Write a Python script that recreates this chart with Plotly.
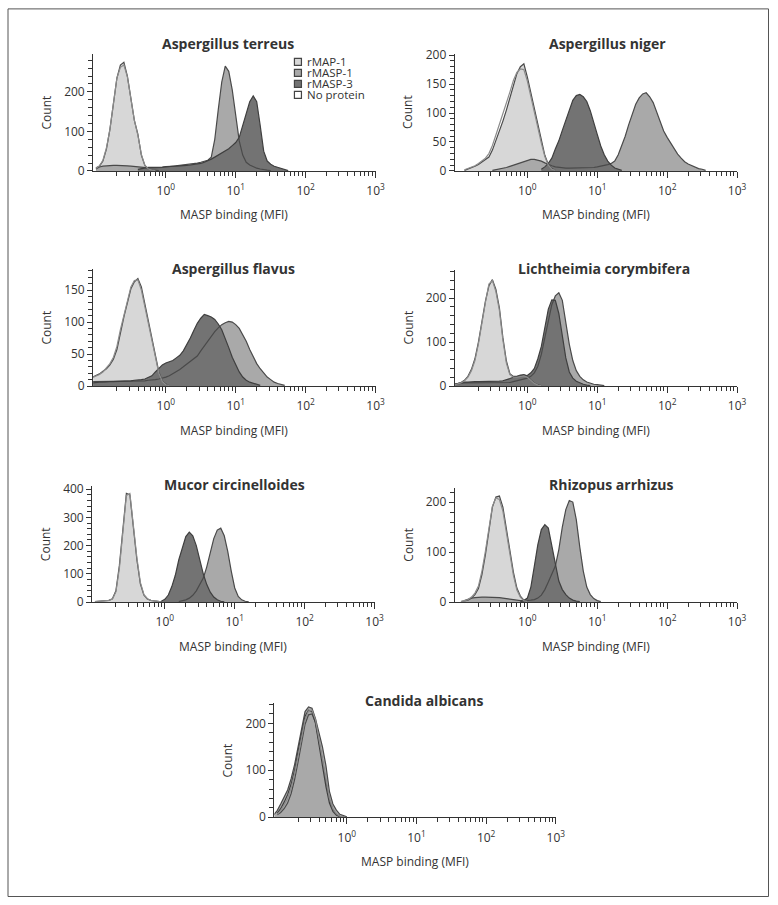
import numpy as np
import plotly.graph_objects as go

W, H = 778, 905
# the photographed page comes out slightly scaled; positions below are in reference pixels
SX, SY, OY = 0.987, 0.982, 7.1
STEP = 0.05  # histogram bin width, in decades of MFI

SERIES = ['rMAP-1', 'rMASP-1', 'rMASP-3', 'No protein']
FILL = ['#d7d7d7', '#a9a9a9', '#737373', 'white']
EDGE = ['#4a4a4a', '#4a4a4a', '#3f3f3f', '#8c8c8c']

# counts per bin; each series starts at log10(MFI) given in *_start (order: SERIES)
terreus_start = [-1.0, -1.0, -0.4, -1.0]
terreus_rmap1 = [8, 12, 25, 55, 105, 170, 235, 268, 275, 240, 180, 128, 93, 40, 14, 5, 3, 2, 1]
terreus_rmasp1 = [5, 10, 12, 13, 14, 14, 14, 14, 13, 13, 12, 11, 10, 9, 8, 8, 8, 8, 9, 9,
                  10, 11, 12, 13, 14, 15, 16, 17, 18, 20, 22, 24, 27, 35, 80, 155, 225, 265, 252, 205,
                  135, 76, 40, 22, 15, 10, 7, 5, 3, 2, 1]
terreus_rmasp3 = [4, 6, 8, 9, 9, 9, 10, 10, 11, 11, 12, 12, 13, 13, 14, 15, 16, 17, 19, 22,
                  25, 30, 35, 40, 45, 50, 56, 64, 72, 85, 115, 145, 175, 190, 175, 115, 50, 25, 17, 12,
                  9, 6, 3, 1]
terreus_none = [7, 13, 27, 58, 105, 170, 235, 262, 268, 238, 178, 128, 90, 42, 14, 5, 2, 1]

niger_start = [-0.9, -0.5, 0.2, -0.9]
niger_rmap1 = [1, 3, 5, 8, 11, 15, 19, 24, 36, 52, 69, 86, 105, 125, 148, 168, 180, 185, 162, 135,
               109, 80, 52, 27, 11, 4, 1]
niger_rmasp1 = [1, 2, 3, 4, 6, 8, 10, 12, 14, 16, 18, 20, 20, 19, 17, 14, 11, 9, 7, 6,
                5, 5, 5, 5, 5, 5, 5, 5, 6, 6, 7, 8, 9, 11, 13, 17, 28, 43, 60, 80,
                98, 115, 126, 133, 135, 128, 118, 102, 85, 69, 58, 48, 38, 29, 22, 16, 12, 9, 6, 4,
                3, 1]
niger_rmasp3 = [3, 7, 13, 22, 38, 52, 70, 88, 108, 122, 130, 132, 128, 120, 104, 82, 63, 43, 28, 17,
                10, 5, 3, 1]
niger_none = [2, 4, 6, 9, 13, 17, 22, 30, 44, 62, 80, 98, 117, 136, 156, 170, 176, 175, 155, 128,
              100, 74, 48, 25, 10, 3, 1]

flavus_start = [-1.05, -1.05, -1.05, -1.05]
flavus_rmap1 = [14, 16, 19, 23, 27, 33, 42, 57, 85, 108, 130, 152, 163, 168, 155, 128, 102, 76, 45, 22,
                8, 3, 1]
flavus_rmasp1 = [7, 7, 7, 7, 7, 7, 7, 7, 7, 7, 7, 7, 7, 7, 8, 8, 9, 9, 10, 11,
                 12, 14, 16, 19, 22, 26, 30, 34, 38, 42, 47, 55, 63, 70, 77, 85, 91, 96, 99, 101,
                 100, 96, 90, 80, 70, 57, 45, 35, 27, 20, 14, 10, 6, 4, 2, 1]
flavus_rmasp3 = [5, 6, 6, 6, 7, 7, 7, 7, 8, 8, 8, 8, 9, 9, 10, 11, 13, 16, 22, 28,
                 33, 36, 38, 40, 44, 48, 55, 64, 75, 87, 98, 106, 112, 110, 108, 104, 97, 88, 75, 60,
                 45, 33, 22, 14, 9, 6, 4, 2, 1]
flavus_none = [13, 15, 18, 22, 28, 35, 45, 62, 88, 112, 135, 155, 165, 166, 150, 124, 98, 72, 42, 20,
               7, 2, 1]

licht_start = [-1.05, -1.05, -1.05, -1.05]
licht_rmap1 = [3, 5, 8, 13, 22, 38, 62, 100, 150, 193, 228, 242, 220, 178, 110, 57, 28, 22, 22, 25,
               26, 22, 14, 7, 3, 1]
licht_rmasp1 = [3, 5, 6, 7, 7, 7, 7, 7, 7, 7, 7, 7, 7, 7, 7, 7, 8, 10, 12, 14,
                16, 18, 22, 30, 45, 72, 110, 150, 185, 205, 212, 195, 140, 95, 58, 35, 22, 14, 9, 6,
                4, 3, 2, 1]
licht_rmasp3 = [4, 6, 8, 9, 9, 10, 10, 10, 10, 10, 10, 10, 10, 11, 12, 14, 17, 20, 22, 24,
                25, 24, 30, 40, 62, 90, 135, 175, 196, 195, 165, 110, 64, 32, 18, 11, 7, 4, 2, 1]
licht_none = [2, 4, 7, 12, 20, 35, 58, 96, 146, 190, 232, 240, 215, 172, 105, 52, 26, 20, 20, 22,
              23, 20, 12, 6, 2, 1]

mucor_start = [-1.0, 0.2, -0.1, -1.0]
mucor_rmap1 = [2, 3, 4, 5, 6, 12, 40, 130, 265, 385, 380, 265, 150, 65, 25, 11, 6, 4, 2, 1]
mucor_rmasp1 = [2, 4, 8, 14, 24, 40, 60, 85, 125, 178, 225, 255, 262, 235, 180, 110, 50, 20, 8, 3, 1]
mucor_rmasp3 = [1, 3, 10, 25, 55, 95, 150, 195, 232, 248, 235, 200, 145, 100, 62, 35, 18, 8, 3, 1]
mucor_none = [2, 3, 4, 5, 6, 11, 36, 120, 255, 378, 385, 272, 158, 70, 27, 12, 6, 4, 2, 1]

rhizo_start = [-0.95, -0.9, -0.1, -0.95]
rhizo_rmap1 = [1, 2, 4, 8, 15, 27, 55, 95, 145, 190, 210, 212, 190, 145, 100, 60, 28, 12, 4, 1]
rhizo_rmasp1 = [3, 6, 8, 9, 10, 10, 10, 10, 10, 9, 9, 8, 7, 5, 4, 3, 3, 3, 3, 4,
                5, 8, 14, 25, 40, 55, 72, 105, 150, 185, 203, 200, 165, 110, 62, 30, 15, 7, 3, 1]
rhizo_rmasp3 = [1, 3, 8, 30, 72, 115, 145, 155, 148, 115, 75, 42, 25, 15, 8, 4, 2, 1]
rhizo_none = [1, 3, 5, 10, 18, 32, 62, 102, 150, 192, 208, 205, 182, 138, 92, 54, 24, 10, 3, 1]

candida_start = [-1.0, -1.05, -1.0, -1.0]
candida_rmap1 = [5, 10, 18, 30, 50, 80, 118, 160, 198, 218, 220, 202, 165, 120, 75, 38, 16, 6, 2, 1]
candida_rmasp1 = [5, 14, 28, 42, 58, 82, 112, 150, 190, 225, 235, 232, 210, 178, 150, 110, 55, 28, 15, 6,
                  3, 1]
candida_rmasp3 = [8, 18, 32, 48, 70, 100, 140, 182, 215, 228, 225, 200, 150, 110, 65, 30, 12, 4, 1]
candida_none = [6, 14, 26, 40, 62, 92, 130, 172, 208, 226, 228, 208, 168, 125, 80, 40, 18, 7, 2, 1]

MAJOR = [1, 10, 100, 1000]
MAJOR_TEXT = ['10<sup>0</sup>', '10<sup>1</sup>', '10<sup>2</sup>', '10<sup>3</sup>']
MINOR = [m * 10.0 ** e for e in range(-1, 3) for m in range(2, 10)]

panels = [
    dict(title='Aspergillus terreus', start=terreus_start,
         counts=[terreus_rmap1, terreus_rmasp1, terreus_rmasp3, terreus_none],
         ymax=296, dtick=100, minor=20, box=(93, 375, 53, 170), tpos=(228, 43)),
    dict(title='Aspergillus niger', start=niger_start,
         counts=[niger_rmap1, niger_rmasp1, niger_rmasp3, niger_none],
         ymax=202, dtick=50, minor=10, box=(454, 736, 53, 170), tpos=(607, 43)),
    dict(title='Aspergillus flavus', start=flavus_start,
         counts=[flavus_rmap1, flavus_rmasp1, flavus_rmasp3, flavus_none],
         ymax=183, dtick=50, minor=10, box=(93, 375, 268, 385), tpos=(233, 268)),
    dict(title='Lichtheimia corymbifera', start=licht_start,
         counts=[licht_rmap1, licht_rmasp1, licht_rmasp3, licht_none],
         ymax=264, dtick=100, minor=20, box=(454, 736, 269, 385), tpos=(603, 268)),
    dict(title='Mucor circinelloides', start=mucor_start,
         counts=[mucor_rmap1, mucor_rmasp1, mucor_rmasp3, mucor_none],
         ymax=411, dtick=100, minor=20, box=(92, 374, 485, 601), tpos=(234, 483)),
    dict(title='Rhizopus arrhizus', start=rhizo_start,
         counts=[rhizo_rmap1, rhizo_rmasp1, rhizo_rmasp3, rhizo_none],
         ymax=228, dtick=100, minor=20, box=(454, 736, 487, 601), tpos=(611, 483)),
    dict(title='Candida albicans', start=candida_start,
         counts=[candida_rmap1, candida_rmasp1, candida_rmasp3, candida_none],
         ymax=243, dtick=100, minor=20, box=(274, 555, 702, 816), tpos=(423, 699), order=[0, 2, 1]),
]

FONT = 'Open Sans, DejaVu Sans, sans-serif'
TXT = '#333333'


def px(x):
    return min(x / SX, W - 0.5) / W


def py(y):
    return 1 - min((y - OY) / SY, H - 0.5) / H


def label(text, x, y, size=12, **kw):
    d = dict(text=text, x=px(x), y=py(y), xref='paper', yref='paper', showarrow=False,
             xanchor='center', yanchor='middle', font=dict(size=size, color=TXT, family=FONT))
    d.update(kw)
    return d


fig = go.Figure()
annotations = []
shapes = []
layout = {}

for n, p in enumerate(panels, start=1):
    xa, ya = ('x%d' % n if n > 1 else 'x'), ('y%d' % n if n > 1 else 'y')
    bins = []
    for s, c in zip(p['start'], p['counts']):
        bins.append(10 ** (s + STEP * np.arange(len(c))))
    # filled histograms
    for k in p.get('order', [0, 1, 2]):
        fig.add_trace(go.Scatter(x=bins[k], y=p['counts'][k], xaxis=xa, yaxis=ya,
                                 mode='lines', fill='tozeroy', fillcolor=FILL[k],
                                 line=dict(width=0, color=FILL[k]),
                                 hoverinfo='skip', showlegend=False))
    # outlines on top
    for k in [0, 1, 2, 3]:
        fig.add_trace(go.Scatter(x=bins[k], y=p['counts'][k], xaxis=xa, yaxis=ya,
                                 mode='lines', line=dict(width=1.2, color=EDGE[k]),
                                 name=SERIES[k], hoverinfo='skip', showlegend=False))

    x0, x1, y0, y1 = p['box']
    key = '' if n == 1 else str(n)
    layout['xaxis' + key] = dict(
        type='log', range=[-1.04, 3], domain=[px(x0), px(x1)], anchor=ya,
        showline=True, linecolor=TXT, linewidth=1, showgrid=False, zeroline=False,
        ticks='outside', ticklen=6, tickcolor=TXT, tickvals=MAJOR, ticktext=MAJOR_TEXT,
        ticklabelstandoff=3, tickfont=dict(size=12, color=TXT),
        minor=dict(tickvals=MINOR, ticks='outside', ticklen=4, tickcolor=TXT, showgrid=False),
        fixedrange=True)
    layout['yaxis' + key] = dict(
        range=[0, p['ymax']], domain=[py(y1), py(y0)], anchor=xa,
        showline=True, linecolor=TXT, linewidth=1, showgrid=False, zeroline=False,
        ticks='outside', ticklen=5, tickcolor=TXT, dtick=p['dtick'], tick0=0,
        tickfont=dict(size=12, color=TXT),
        minor=dict(dtick=p['minor'], ticks='outside', ticklen=4, tickcolor=TXT, showgrid=False),
        fixedrange=True)

    annotations.append(label('<b>' + p['title'] + '</b>', p['tpos'][0], p['tpos'][1], size=14))
    annotations.append(label('Count', x0 - 47, (y0 + y1) / 2, textangle=-90))
    annotations.append(label('MASP binding (MFI)', (x0 + x1) / 2, y1 + 44))

# legend drawn in the first panel
for i, name in enumerate(SERIES):
    cy = 61 + 11 * i
    shapes.append(dict(type='rect', xref='paper', yref='paper',
                       x0=px(294), x1=px(301), y0=py(cy + 3.5), y1=py(cy - 3.5),
                       fillcolor=FILL[i], line=dict(color='#444444', width=1.2)))
    annotations.append(label(name, 305, cy, size=11.5, xanchor='left'))

# outer frame
shapes.append(dict(type='rect', xref='paper', yref='paper', x0=px(8), x1=px(770),
                   y0=py(897), y1=py(8), line=dict(color='#555555', width=1)))

fig.update_layout(width=W, height=H, margin=dict(l=0, r=0, t=0, b=0),
                  paper_bgcolor='white', plot_bgcolor='white',
                  font=dict(family=FONT, color=TXT, size=12),
                  showlegend=False, annotations=annotations, shapes=shapes, **layout)

fig.write_html('out.html', config={'displayModeBar': False},
               post_script="document.body.style.margin='0';"
                           "document.body.style.overflow='hidden';"
                           "document.documentElement.style.overflow='hidden';")
